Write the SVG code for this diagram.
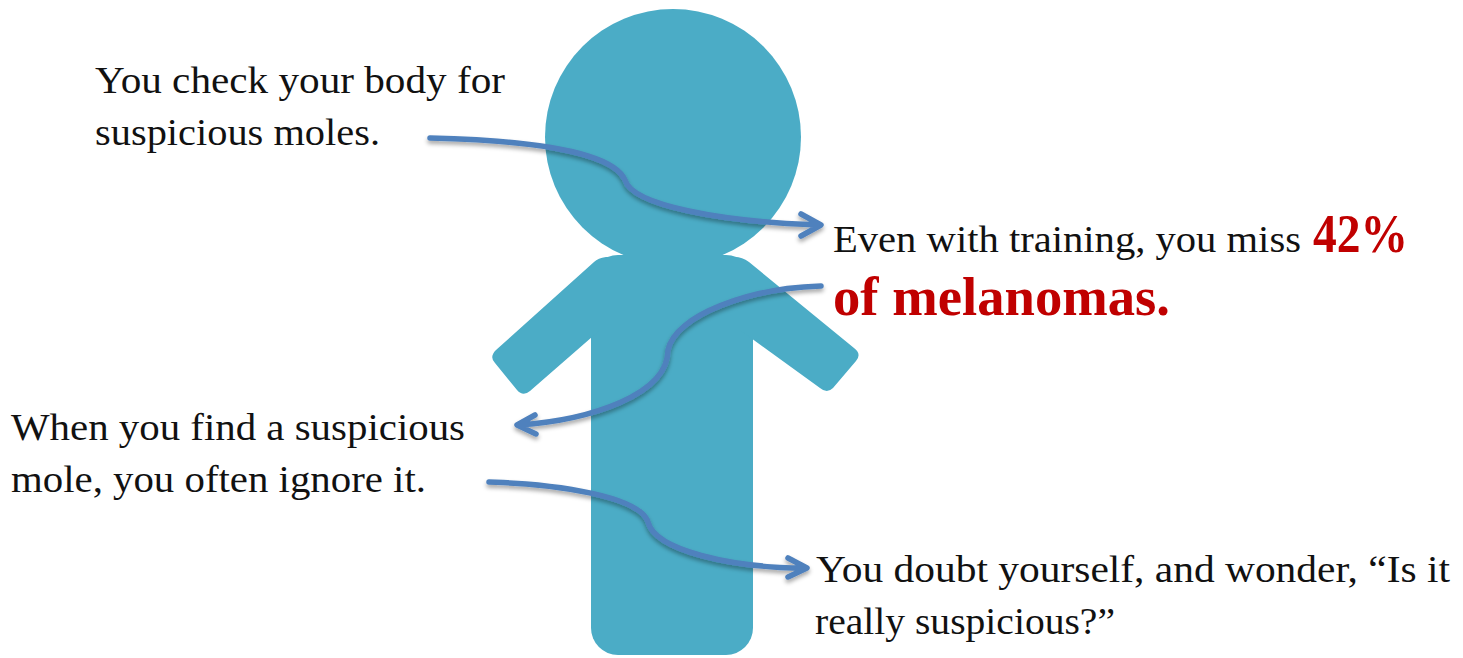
<svg xmlns="http://www.w3.org/2000/svg" width="1463" height="658" viewBox="0 0 1463 658">
<style>
.fig{fill:#4bacc6}
.t{font-family:"Liberation Serif","Times New Roman",serif;font-size:38px;fill:#111}
.r{font-family:"Liberation Serif","Times New Roman",serif;font-size:54px;font-weight:bold;fill:#c00000}
.c{fill:none;stroke:#4f81bd;stroke-width:5.5;stroke-linecap:round;stroke-linejoin:round}
</style>
<defs><filter id="s" x="-10%" y="-30%" width="120%" height="170%"><feDropShadow dx="0" dy="3" stdDeviation="2" flood-color="#000" flood-opacity="0.35"/></filter></defs>
<rect width="1463" height="658" fill="#fff"/>
<g id="figure" class="fig">
<circle cx="673" cy="137" r="128"/>
<rect x="591" y="255" width="162" height="400" rx="27"/>
<path d="M606 257Q598 258 594 262L496 350Q489 357 495 363L517 390Q523 397 530 391L600 330H740L820 388Q827 394 833 388L856 361Q862 354 854 348L749 262Q742 257 735 257Z"/>
</g>
<g id="connectors" class="c" filter="url(#s)">
<path d="M430 138C520 140 612 150 625 180C632 205 720 222 820 225M801 214L821 225L801 236"/>
<path d="M821 286C750 288 675 315 668 350C668 395 590 420 519 425M535 415L517 425L536 434"/>
<path d="M489 482C560 484 640 497 648 522C655 550 730 568 806 568M788 558L807 568L788 577"/>
</g>
<g id="n1"><text class="t" x="95" y="93" textLength="410" lengthAdjust="spacingAndGlyphs">You check your body for</text><text class="t" x="95" y="145" textLength="285" lengthAdjust="spacingAndGlyphs">suspicious moles.</text></g>
<g id="n2"><text class="t" x="833" y="252" textLength="468" lengthAdjust="spacingAndGlyphs">Even with training, you miss</text><text class="r" x="1313" y="252" textLength="95" lengthAdjust="spacingAndGlyphs">42%</text><text class="r" x="833" y="315" textLength="337" lengthAdjust="spacingAndGlyphs">of melanomas.</text></g>
<g id="n3"><text class="t" x="11" y="440" textLength="454" lengthAdjust="spacingAndGlyphs">When you find a suspicious</text><text class="t" x="11" y="492" textLength="415" lengthAdjust="spacingAndGlyphs">mole, you often ignore it.</text></g>
<g id="n4"><text class="t" x="816" y="582" textLength="634" lengthAdjust="spacingAndGlyphs">You doubt yourself, and wonder, “Is it</text><text class="t" x="815" y="634" textLength="300" lengthAdjust="spacingAndGlyphs">really suspicious?”</text></g>
</svg>
